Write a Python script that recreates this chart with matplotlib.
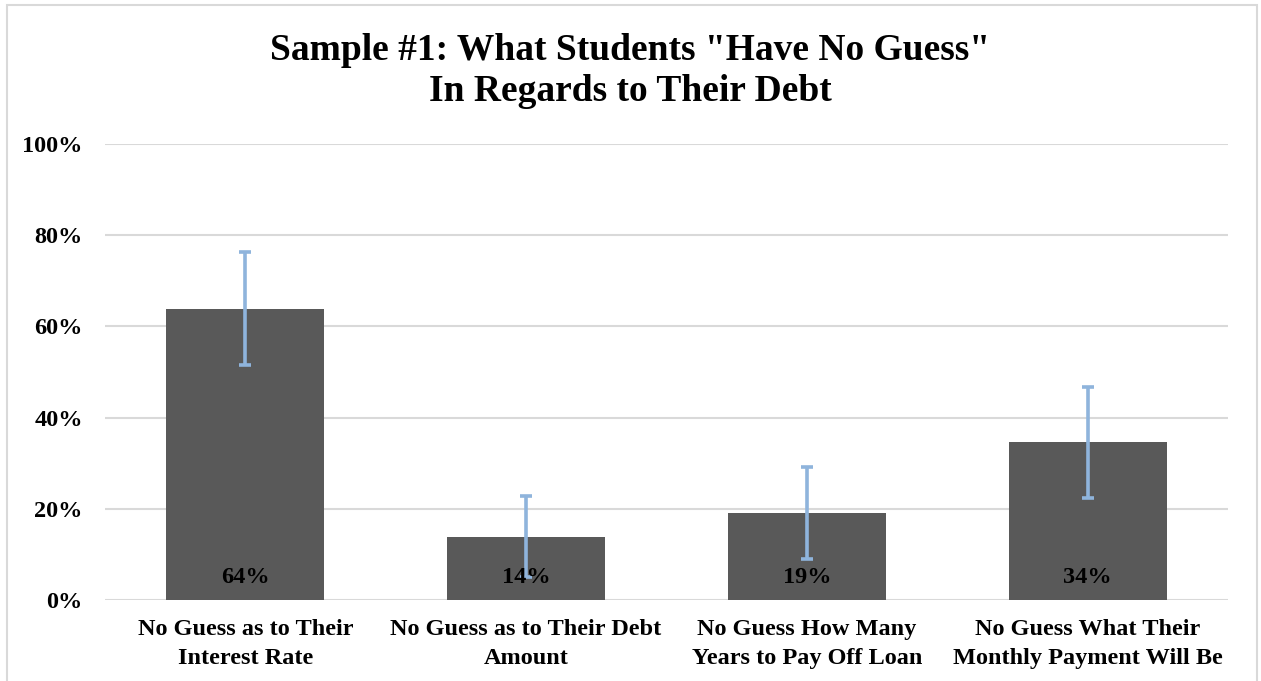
import numpy as np
import matplotlib.pyplot as plt
from matplotlib.patches import Rectangle
from matplotlib.ticker import FuncFormatter

# ---- Data ----
categories = ["No Guess as to Their\nInterest Rate",
              "No Guess as to Their Debt\nAmount",
              "No Guess How Many\nYears to Pay Off Loan",
              "No Guess What Their\nMonthly Payment Will Be"]
values = [0.639, 0.139, 0.191, 0.346]
errors = [0.124, 0.089, 0.101, 0.122]
bar_labels = ["64%", "14%", "19%", "34%"]
yticks = [0.0, 0.2, 0.4, 0.6, 0.8, 1.0]

title = 'Sample #1: What Students "Have No Guess"\nIn Regards to Their Debt'

# ---- Style ----
plt.rcParams['font.family'] = ['Liberation Serif', 'DejaVu Serif']
plt.rcParams['font.weight'] = 'bold'

fig = plt.figure(figsize=(12.61, 6.81), dpi=100)
ax = fig.add_axes([105 / 1261, 1 - 600 / 681, (1228 - 105) / 1261, (600 - 144) / 681])

x = np.arange(len(categories))
ax.bar(x, values, width=0.563, color='#595959', zorder=2)
ax.errorbar(x, values, yerr=errors, fmt='none', ecolor='#8fb4dc',
            elinewidth=2.6, capsize=4.5, capthick=2.6, zorder=3)

for xi, lab in zip(x, bar_labels):
    ax.text(xi, 0.05, lab, ha='center', va='center', fontsize=17.5,
            fontweight='bold', color='black', zorder=4)

ax.set_xlim(-0.5, len(categories) - 0.5)
ax.set_ylim(0, 1)
ax.set_yticks(yticks)
ax.yaxis.set_major_formatter(FuncFormatter(lambda y, _: f"{y*100:.0f}%"))
ax.set_xticks(x)
ax.set_xticklabels(categories, fontsize=17.5, fontweight='bold', linespacing=1.5)
ax.tick_params(axis='y', length=0, pad=16, labelsize=17.5)
ax.tick_params(axis='x', length=0, pad=14)

ax.grid(axis='y', color='#d9d9d9', linewidth=1.5, zorder=0)
ax.set_axisbelow(True)
for s in ax.spines.values():
    s.set_visible(False)

fig.text(0.5, 1 - 71 / 681, title, ha='center', va='center', fontsize=27,
         fontweight='bold', linespacing=1.25)

# outer chart frame
fig.patches.append(Rectangle((7 / 1261, -0.05), 1250 / 1261, 1.05 - 5 / 681,
                             transform=fig.transFigure, fill=False,
                             edgecolor='#d9d9d9', linewidth=1.5))

fig.savefig('out.png', dpi=100)
